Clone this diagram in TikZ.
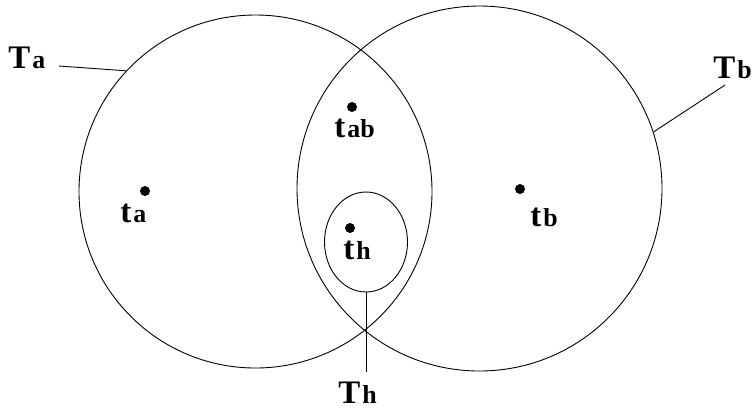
\documentclass[tikz,border=0pt]{standalone}
\usepackage{fontspec}
\setmainfont{Liberation Serif}
\usetikzlibrary{shapes.geometric}

\newcommand{\setlbl}[2]{{\bfseries\fontsize{33}{33}\selectfont #1}\kern2bp{\bfseries\fontsize{26}{26}\selectfont #2}}

\begin{document}
\begin{tikzpicture}[x=1bp,y=-1bp,line width=0.9bp,
  setcirc/.style={draw,circle,inner sep=0pt},
  pt/.style={circle,fill,inner sep=0pt,minimum size=10bp},
  lbl/.style={anchor=base west,inner sep=0pt}]
\useasboundingbox (0,0) rectangle (754,411);

%% ---------------- the two sets and the small one ----------------
\node[setcirc,minimum size=353bp] (Ta) at (255.5,191.5) {};
\node[setcirc,minimum size=365bp] (Tb) at (479.5,188.5) {};
\node[draw,ellipse,inner sep=0pt,minimum width=83bp,minimum height=100bp]
     (Th) at (366,242) {};

%% ---------------- points ----------------
\node[pt] (ta)  at (145,191) {};
\node[pt] (tab) at (352,107) {};
\node[pt] (th)  at (350,228) {};
\node[pt] (tb)  at (520,189) {};
\node[lbl] (lta)  at (120,222) {\setlbl{t}{a}};
\node[lbl] (ltab) at (334,137) {\setlbl{t}{ab}};
\node[lbl] (lth)  at (343,259) {\setlbl{t}{h}};
\node[lbl] (ltb)  at (530,226) {\setlbl{t}{b}};

%% ---------------- set names with their leaders ----------------
\node[lbl] (lTa) at (8,68)   {\setlbl{T}{a}};
\node[lbl] (lTb) at (713,78) {\setlbl{T}{b}};
\node[lbl] (lTh) at (338,403) {\setlbl{T}{h}};
\coordinate (hTa) at (59,66);
\coordinate (hTb) at (725,85);
\draw (hTa) -- (Ta.137);
\draw (hTb) -- (Tb.18.5);
\draw (Th.south) -- (Th.south |- 0,372);
\end{tikzpicture}
\end{document}
